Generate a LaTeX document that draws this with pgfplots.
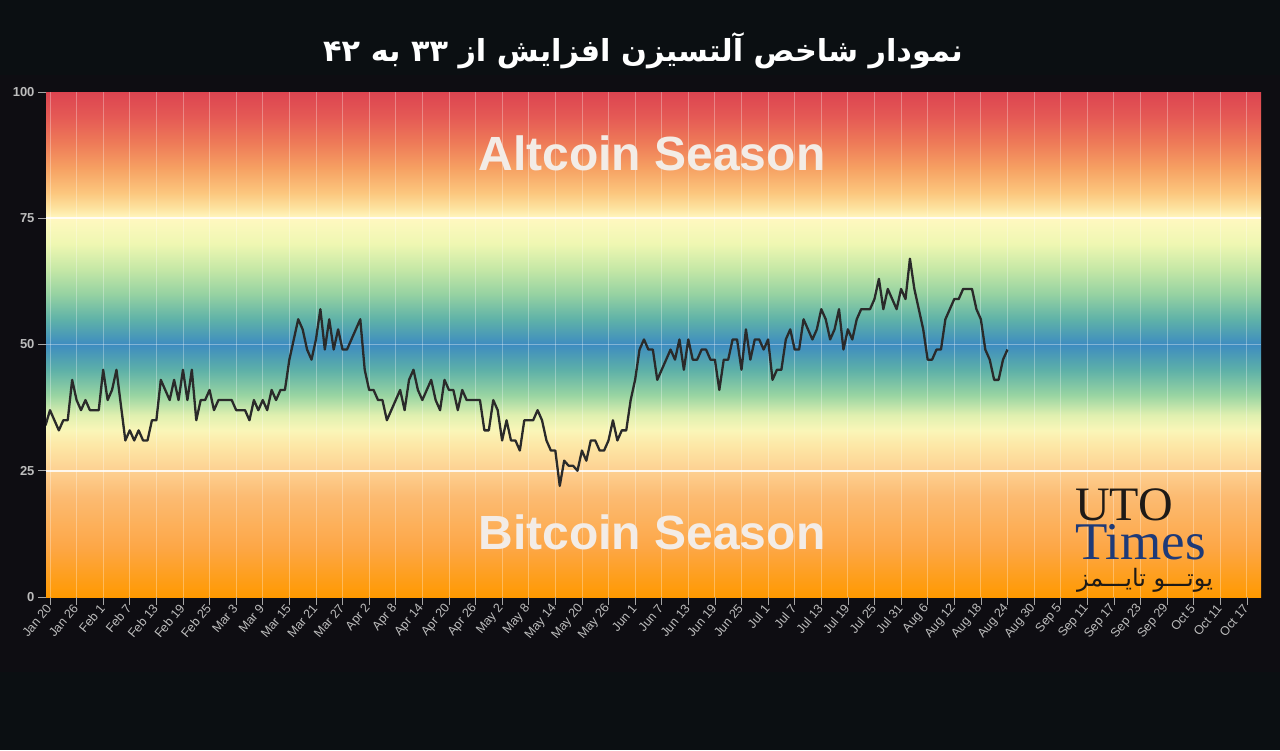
\documentclass[border=0pt]{standalone}
\usepackage{pgfplots}
\pgfplotsset{compat=1.18}
\usepackage{fontspec}
\setmainfont{Liberation Sans}
\newfontfamily\arabicfont[Script=Arabic]{DejaVu Sans}
\newfontfamily\serifwm{Liberation Serif}
\TeXXeTstate=1

\definecolor{bgdark}{HTML}{0B0F12}
\definecolor{panel}{HTML}{0E0D12}
\definecolor{tickgrey}{HTML}{BDBDBD}
\definecolor{linecol}{HTML}{2A2A2A}
\definecolor{seasontxt}{HTML}{F3ECE6}
\definecolor{wmdark}{HTML}{1E1A17}
\definecolor{wmnavy}{HTML}{1E3A78}

\definecolor{c0}{HTML}{FF9900}
\definecolor{c10}{HTML}{FDA747}
\definecolor{c20}{HTML}{FCBB72}
\definecolor{c25}{HTML}{FDD091}
\definecolor{c30}{HTML}{FDE7A6}
\definecolor{c33}{HTML}{FAF6B8}
\definecolor{c36}{HTML}{E0F0B0}
\definecolor{c40}{HTML}{98D4A2}
\definecolor{c45}{HTML}{5DB0A8}
\definecolor{c50}{HTML}{3E8CC0}
\definecolor{c55}{HTML}{5FB2A8}
\definecolor{c60}{HTML}{96D2A2}
\definecolor{c65}{HTML}{C6E8A6}
\definecolor{c70}{HTML}{EFF7B2}
\definecolor{c75}{HTML}{FFF8C0}
\definecolor{c77}{HTML}{FDE3A0}
\definecolor{c80}{HTML}{FCC77E}
\definecolor{c85}{HTML}{F6A062}
\definecolor{c90}{HTML}{EE7A58}
\definecolor{c95}{HTML}{E55A55}
\definecolor{c100}{HTML}{DC4450}

\pgfdeclareverticalshading{altseason}{100bp}{%
color(0bp)=(c0); color(25bp)=(c0); color(30bp)=(c10); color(35bp)=(c20);
color(37.5bp)=(c25); color(40bp)=(c30); color(41.5bp)=(c33); color(43bp)=(c36);
color(45bp)=(c40); color(47.5bp)=(c45); color(50bp)=(c50); color(52.5bp)=(c55);
color(55bp)=(c60); color(57.5bp)=(c65); color(60bp)=(c70); color(62.5bp)=(c75);
color(63.5bp)=(c77); color(65bp)=(c80); color(67.5bp)=(c85); color(70bp)=(c90);
color(72.5bp)=(c95); color(75bp)=(c100); color(100bp)=(c100)}

\pgfplotstableread{
x y
-1 34
0 37
1 35
2 33
3 35
4 35
5 43
6 39
7 37
8 39
9 37
10 37
11 37
12 45
13 39
14 41
15 45
16 38
17 31
18 33
19 31
20 33
21 31
22 31
23 35
24 35
25 43
26 41
27 39
28 43
29 39
30 45
31 39
32 45
33 35
34 39
35 39
36 41
37 37
38 39
39 39
40 39
41 39
42 37
43 37
44 37
45 35
46 39
47 37
48 39
49 37
50 41
51 39
52 41
53 41
54 47
55 51
56 55
57 53
58 49
59 47
60 51
61 57
62 49
63 55
64 49
65 53
66 49
67 49
68 51
69 53
70 55
71 45
72 41
73 41
74 39
75 39
76 35
77 37
78 39
79 41
80 37
81 43
82 45
83 41
84 39
85 41
86 43
87 39
88 37
89 43
90 41
91 41
92 37
93 41
94 39
95 39
96 39
97 39
98 33
99 33
100 39
101 37
102 31
103 35
104 31
105 31
106 29
107 35
108 35
109 35
110 37
111 35
112 31
113 29
114 29
115 22
116 27
117 26
118 26
119 25
120 29
121 27
122 31
123 31
124 29
125 29
126 31
127 35
128 31
129 33
130 33
131 39
132 43
133 49
134 51
135 49
136 49
137 43
138 45
139 47
140 49
141 47
142 51
143 45
144 51
145 47
146 47
147 49
148 49
149 47
150 47
151 41
152 47
153 47
154 51
155 51
156 45
157 53
158 47
159 51
160 51
161 49
162 51
163 43
164 45
165 45
166 51
167 53
168 49
169 49
170 55
171 53
172 51
173 53
174 57
175 55
176 51
177 53
178 57
179 49
180 53
181 51
182 55
183 57
184 57
185 57
186 59
187 63
188 57
189 61
190 59
191 57
192 61
193 59
194 67
195 61
196 57
197 53
198 47
199 47
200 49
201 49
202 55
203 57
204 59
205 59
206 61
207 61
208 61
209 57
210 55
211 49
212 47
213 43
214 43
215 47
216 49
}\altdata

\begin{document}
\begin{tikzpicture}[x=1pt,y=1pt]
\path[use as bounding box] (0,0) rectangle (1280,-750);
\fill[bgdark] (0,0) rectangle (1280,-750);
\fill[panel] (0,-75) rectangle (1280,-672);
\node[text=white] at (643,-51) {\arabicfont\bfseries\fontsize{30.3}{36}\selectfont\beginR نمودار شاخص آلتسیزن افزایش از ۳۳ به \beginL۴۲\endL\endR};
\begin{axis}[
  at={(46pt,-597pt)}, anchor=south west,
  scale only axis, width=1215pt, height=505pt,
  xmin=-0.9, xmax=273.2, ymin=0, ymax=100,
  axis background/.style={shade, shading=altseason},
  axis line style={draw=none},
  tick pos=left,
  xtick={0,6,...,270},
  xticklabels={Jan 20,Jan 26,Feb 1,Feb 7,Feb 13,Feb 19,Feb 25,Mar 3,Mar 9,Mar 15,Mar 21,Mar 27,Apr 2,Apr 8,Apr 14,Apr 20,Apr 26,May 2,May 8,May 14,May 20,May 26,Jun 1,Jun 7,Jun 13,Jun 19,Jun 25,Jul 1,Jul 7,Jul 13,Jul 19,Jul 25,Jul 31,Aug 6,Aug 12,Aug 18,Aug 24,Aug 30,Sep 5,Sep 11,Sep 17,Sep 23,Sep 29,Oct 5,Oct 11,Oct 17},
  ytick={0,25,50,75,100},
  tick align=outside,
  major tick length=8pt,
  tick style={draw=gray!70, line width=0.6pt},
  xmajorgrids=true,
  grid style={white, opacity=0.3, line width=0.8pt},
  /pgf/number format/assume math mode=true,
  xticklabel style={rotate=50, anchor=east, font=\fontsize{12.5}{12.5}\selectfont, text=tickgrey, inner sep=1.5pt},
  yticklabel style={font=\bfseries\fontsize{13}{13}\selectfont, text=tickgrey},
  clip=true,
]
\draw[white, opacity=0.85, line width=2pt] (axis cs:-0.9,25) -- (axis cs:273.2,25);
\draw[white, opacity=0.85, line width=2pt] (axis cs:-0.9,75) -- (axis cs:273.2,75);
\draw[white, opacity=0.35, line width=1pt] (axis cs:-0.9,50) -- (axis cs:273.2,50);
\addplot[color=linecol, line width=2.3pt, line join=round, mark=none] table[x=x,y=y] {\altdata};
\end{axis}
\node[text=seasontxt] at (652,-153) {\bfseries\fontsize{48}{50}\selectfont Altcoin Season};
\node[text=seasontxt] at (652,-532) {\bfseries\fontsize{48}{50}\selectfont Bitcoin Season};
\node[anchor=base west, text=wmdark, inner sep=0pt] at (1075,-520) {\serifwm\fontsize{48}{48}\selectfont UTO};
\node[anchor=base west, text=wmnavy, inner sep=0pt] at (1075,-559) {\serifwm\fontsize{53}{53}\selectfont Times};
\node[anchor=base west, text=wmdark, inner sep=0pt] at (1077,-586) {\arabicfont\fontsize{24}{24}\selectfont\beginR یوتـــو تایـــمز\endR};
\end{tikzpicture}
\end{document}
